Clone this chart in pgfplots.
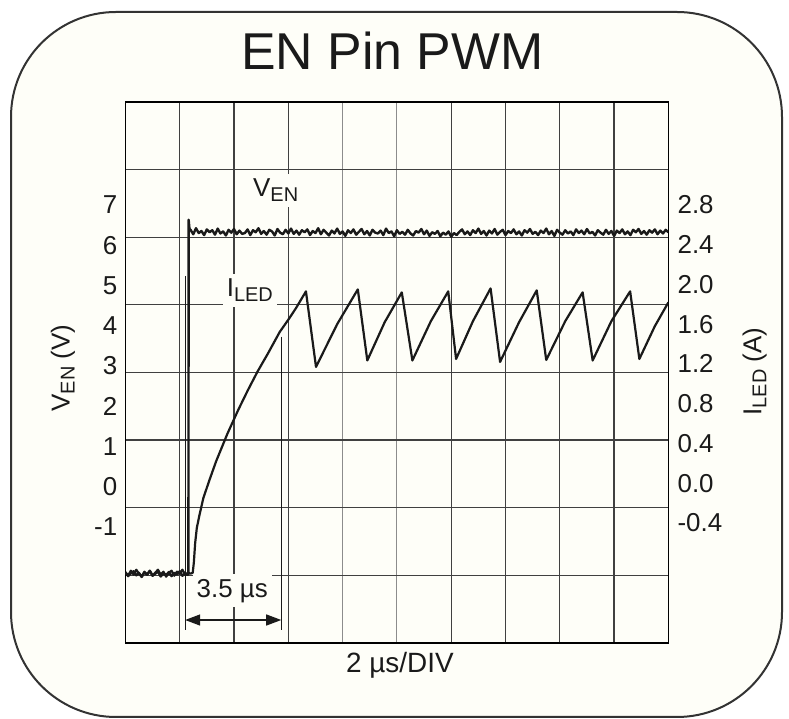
\documentclass[border=0pt]{standalone}
\usepackage{fontspec}
\setmainfont{Liberation Sans}
\usepackage{pgfplots}
\pgfplotsset{compat=1.18}
\usetikzlibrary{arrows.meta}
\definecolor{paper}{HTML}{FEFEF8}
\definecolor{ink}{HTML}{1A1A1A}
\newcommand\fs[1]{\fontsize{#1}{#1}\selectfont}
\pgfplotsset{common/.style={scale only axis, width=543bp, height=541bp,
  at={(125.4bp,76bp)}, anchor=south west, xmin=0, xmax=20,
  /pgf/number format/assume math mode=true}}
\begin{document}
\begin{tikzpicture}[x=1bp,y=1bp]
\path[use as bounding box] (0,0) rectangle (789,719);
\fill[white] (0,0) rectangle (789,719);
\draw[line width=2bp, black!80, fill=paper, rounded corners=105bp] (11,2) rectangle (782,707);

% grid / time axis
\begin{axis}[common, ymin=0, ymax=8,
  xtick={0,2,4,6,12,14,16,18,20}, minor xtick={8,10}, ytick={0,1,2,3,4,5,6,7,8},
  xticklabel=\empty, yticklabel=\empty,
  major tick length=0, minor tick length=0,
  grid=both, major grid style={black!75, line width=1.25bp},
  minor grid style={black!45, line width=1.1bp},
  axis line style={black, line width=1.6bp},
  title={EN Pin PWM},
  title style={at={(axis description cs:0.4919,1)}, anchor=base, yshift=27bp, font=\fs{52}, text=ink},
  xlabel={2 µs/DIV},
  xlabel style={at={(axis description cs:0.5055,0)}, anchor=base, yshift=-30bp, font=\fs{28}, text=ink}]
\node[anchor=base west, xshift=-4bp, inner xsep=4bp, inner ysep=5bp, fill=paper, font=\fs{26}, text=ink]
  at (axis cs:4.70,6.60) {V\raisebox{-5bp}{\fs{20}EN}};
\node[anchor=base west, xshift=-4bp, inner xsep=4bp, inner ysep=5bp, fill=paper, font=\fs{26}, text=ink]
  at (axis cs:3.73,5.12) {I\raisebox{-5bp}{\fs{20}LED}};
\node[anchor=base west, xshift=-4bp, inner xsep=4bp, inner ysep=5bp, fill=paper, font=\fs{26}, text=ink]
  at (axis cs:2.62,0.68) {3.5 µs};
\draw[line width=1.1bp, ink] (axis cs:2.20,5.43) -- (axis cs:2.20,0.19);
\draw[line width=1.1bp, ink] (axis cs:5.74,4.53) -- (axis cs:5.74,0.19);
\draw[line width=1.3bp, ink, {Triangle[length=15bp,width=11bp]}-{Triangle[length=15bp,width=11bp]}]
  (axis cs:2.20,0.34) -- (axis cs:5.74,0.34);
\end{axis}

% V_EN axis (left)
\begin{axis}[common, ymin=-3.881, ymax=9.555, hide x axis, axis y line*=left,
  axis line style={-, draw=none},
  ytick={-1,0,1,2,3,4,5,6,7}, major tick length=0,
  yticklabel style={font=\fs{26}, text=ink, inner sep=0pt, anchor=east, xshift=-8bp},
  ylabel={V\raisebox{-5bp}{\fs{20}EN} (V)},
  ylabel style={at={(axis description cs:-0.1029,0.5083)}, anchor=base, font=\fs{26}, text=ink}]
\addplot[ink, line width=2.4bp, line join=round] coordinates {
(0.0,-2.12)(0.1,-2.22)(0.2,-2.15)(0.3,-2.10)(0.4,-2.20)(0.5,-2.14)(0.6,-2.24)(0.7,-2.13)(0.8,-2.18)(0.9,-2.09)
(1.0,-2.21)(1.1,-2.16)(1.2,-2.11)(1.3,-2.23)(1.4,-2.15)(1.5,-2.19)(1.6,-2.12)(1.7,-2.22)(1.8,-2.14)(1.9,-2.18)
(2.0,-2.10)(2.1,-2.21)(2.2,-2.16)(2.3,-2.19)(2.32,-2.17)(2.33,6.63)(2.36,6.40)
(2.4,6.38)(2.5,6.27)(2.6,6.42)(2.7,6.30)(2.8,6.35)(2.9,6.25)(3.0,6.39)(3.1,6.32)(3.2,6.37)(3.3,6.26)
(3.4,6.41)(3.5,6.29)(3.6,6.34)(3.7,6.24)(3.8,6.38)(3.9,6.31)(4.0,6.40)(4.1,6.27)(4.2,6.36)(4.3,6.28)
(4.4,6.30)(4.5,6.39)(4.6,6.25)(4.7,6.37)(4.8,6.32)(4.9,6.42)(5.0,6.28)(5.1,6.35)(5.2,6.26)(5.3,6.38)
(5.4,6.34)(5.5,6.24)(5.6,6.40)(5.7,6.31)(5.8,6.27)(5.9,6.38)(6.0,6.29)(6.1,6.41)(6.2,6.28)(6.3,6.36)
(6.4,6.26)(6.5,6.37)(6.6,6.32)(6.7,6.39)(6.8,6.25)(6.9,6.35)(7.0,6.30)(7.1,6.42)(7.2,6.27)(7.3,6.38)
(7.4,6.31)(7.5,6.24)(7.6,6.36)(7.7,6.29)(7.8,6.41)(7.9,6.28)(8.0,6.34)(8.1,6.23)(8.2,6.37)(8.3,6.30)
(8.4,6.39)(8.5,6.26)(8.6,6.33)(8.7,6.40)(8.8,6.27)(8.9,6.35)(9.0,6.24)(9.1,6.38)(9.2,6.31)(9.3,6.29)
(9.4,6.36)(9.5,6.25)(9.6,6.41)(9.7,6.30)(9.8,6.34)(9.9,6.22)(10.0,6.37)(10.1,6.28)(10.2,6.33)(10.3,6.26)
(10.4,6.38)(10.5,6.29)(10.6,6.24)(10.7,6.35)(10.8,6.31)(10.9,6.40)(11.0,6.27)(11.1,6.36)(11.2,6.23)(11.3,6.32)
(11.4,6.28)(11.5,6.35)(11.6,6.22)(11.7,6.31)(11.8,6.26)(11.9,6.34)(12.0,6.21)(12.1,6.30)(12.2,6.25)(12.3,6.33)
(12.4,6.39)(12.5,6.27)(12.6,6.34)(12.7,6.25)(12.8,6.37)(12.9,6.30)(13.0,6.41)(13.1,6.28)(13.2,6.35)(13.3,6.24)
(13.4,6.36)(13.5,6.29)(13.6,6.40)(13.7,6.26)(13.8,6.33)(13.9,6.38)(14.0,6.25)(14.1,6.35)(14.2,6.30)(14.3,6.39)
(14.4,6.27)(14.5,6.34)(14.6,6.24)(14.7,6.37)(14.8,6.31)(14.9,6.40)(15.0,6.28)(15.1,6.33)(15.2,6.25)(15.3,6.36)
(15.4,6.30)(15.5,6.41)(15.6,6.27)(15.7,6.35)(15.8,6.23)(15.9,6.38)(16.0,6.31)(16.1,6.26)(16.2,6.37)(16.3,6.29)
(16.4,6.34)(16.5,6.25)(16.6,6.39)(16.7,6.30)(16.8,6.36)(16.9,6.27)(17.0,6.40)(17.1,6.29)(17.2,6.33)(17.3,6.24)
(17.4,6.37)(17.5,6.31)(17.6,6.26)(17.7,6.38)(17.8,6.28)(17.9,6.35)(18.0,6.23)(18.1,6.36)(18.2,6.30)(18.3,6.39)
(18.4,6.27)(18.5,6.34)(18.6,6.25)(18.7,6.38)(18.8,6.32)(18.9,6.40)(19.0,6.28)(19.1,6.35)(19.2,6.26)(19.3,6.37)
(19.4,6.31)(19.5,6.39)(19.6,6.27)(19.7,6.36)(19.8,6.29)(19.9,6.38)(20.0,6.32)
};
\end{axis}

% I_LED axis (right)
\begin{axis}[common, ymin=-1.607, ymax=3.835, hide x axis, axis y line*=right,
  axis line style={-, draw=none},
  ytick={-0.4,0,0.4,0.8,1.2,1.6,2.0,2.4,2.8}, major tick length=0,
  yticklabel style={/pgf/number format/fixed, /pgf/number format/fixed zerofill,
    /pgf/number format/precision=1, font=\fs{26}, text=ink, inner sep=0pt, anchor=west, xshift=9bp},
  ylabel={I\raisebox{-5bp}{\fs{20}LED} (A)},
  ylabel style={at={(axis description cs:1.1714,0.5018)}, anchor=base, font=\fs{26}, text=ink}]
\addplot[ink, line width=2.2bp, line join=round] coordinates {
(0.0,-0.90)(0.1,-0.93)(0.2,-0.88)(0.3,-0.92)(0.4,-0.87)(0.5,-0.91)(0.6,-0.94)(0.7,-0.89)(0.8,-0.92)(0.9,-0.88)
(1.0,-0.93)(1.1,-0.90)(1.2,-0.87)(1.3,-0.92)(1.4,-0.89)(1.5,-0.94)(1.6,-0.90)(1.7,-0.88)(1.8,-0.93)(1.9,-0.89)
(2.0,-0.91)(2.1,-0.87)(2.2,-0.92)(2.3,-0.90)(2.4,-0.91)(2.48,-0.90)
(2.52,-0.80)(2.57,-0.60)(2.63,-0.45)(2.72,-0.33)(2.87,-0.15)(3.08,0.02)(3.34,0.22)(3.76,0.50)(4.16,0.74)
(4.50,0.93)(4.86,1.12)(5.26,1.31)(5.68,1.52)(6.0,1.645)(6.28,1.76)(6.65,1.93)
(7.02,1.17)(7.80,1.60)(8.56,1.95)
(8.91,1.235)(9.55,1.62)(10.18,1.92)
(10.57,1.235)(11.25,1.63)(11.89,1.93)
(12.18,1.25)(12.80,1.63)(13.45,1.96)
(13.80,1.22)(14.50,1.62)(15.15,1.94)
(15.50,1.24)(16.20,1.63)(16.84,1.92)
(17.21,1.235)(17.90,1.63)(18.59,1.93)
(18.93,1.25)(19.50,1.58)(20.0,1.82)
};
\end{axis}
\end{tikzpicture}
\end{document}
